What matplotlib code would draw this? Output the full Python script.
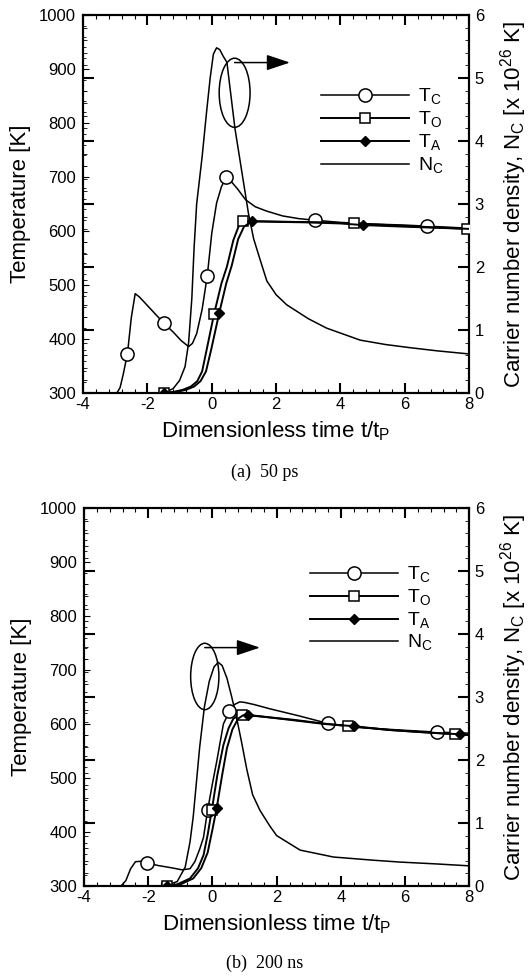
import matplotlib.pyplot as plt
from matplotlib.lines import Line2D
from matplotlib.patches import Ellipse
from matplotlib.ticker import MultipleLocator

plt.rcParams['font.family'] = ['Liberation Sans', 'DejaVu Sans']
plt.rcParams['mathtext.fontset'] = 'custom'
plt.rcParams['mathtext.rm'] = 'Liberation Sans'
plt.rcParams['axes.unicode_minus'] = False

# ---- (a) 50 ps ----
a_tc_t = [-2.95, -2.85, -2.75, -2.62, -2.5, -2.38, -2.25, -2.0, -1.75, -1.5, -1.2, -0.95, -0.72, -0.6,
          -0.47, -0.3, -0.14, 0.0, 0.15, 0.3, 0.45, 0.6, 0.8, 1.05, 1.35, 1.7, 2.2, 2.7, 3.2, 4.0,
          5.0, 6.0, 6.7, 7.4, 8.0]
a_tc = [300, 310, 335, 373, 440, 484, 478, 462, 446, 430, 413, 397, 386, 392, 410, 455, 517, 596,
        652, 682, 700, 692, 678, 658, 645, 637, 628, 623, 620, 616, 613, 611, 609, 607, 605]
a_tc_marks = [-2.62, -1.5, -0.14, 0.45, 3.2, 6.7]

a_to_t = [-1.5, -1.2, -0.9, -0.65, -0.45, -0.3, -0.16, 0.07, 0.3, 0.47, 0.67, 0.83, 0.96, 1.5, 2.5,
          3.5, 4.42, 5.5, 6.5, 7.93]
a_to = [300, 302, 306, 312, 322, 340, 380, 446, 503, 534, 583, 608, 618, 618, 617, 616, 614, 611,
        608, 604]
a_to_marks = [-1.5, 0.07, 0.96, 4.42, 7.93]

a_ta_t = [-1.5, -1.1, -0.8, -0.55, -0.35, -0.18, -0.02, 0.23, 0.45, 0.62, 0.82, 1.0, 1.24, 2.0, 3.0,
          4.0, 4.71, 6.0, 7.0, 8.0]
a_ta = [300, 302, 306, 312, 322, 340, 380, 448, 503, 536, 585, 608, 618, 617, 616, 614, 611, 608,
        606, 604]
a_ta_marks = [-1.5, 0.23, 1.24, 4.71]

a_nc_t = [-1.5, -1.2, -1.0, -0.83, -0.72, -0.62, -0.55, -0.47, -0.3, -0.16, -0.05, 0.05, 0.15, 0.25,
          0.35, 0.47, 0.72, 1.0, 1.14, 1.3, 1.5, 1.71, 2.0, 2.33, 3.0, 3.57, 4.61, 5.4, 6.16, 7.0, 8.0]
a_nc = [0, 0.07, 0.2, 0.42, 0.8, 1.5, 2.3, 3.0, 3.75, 4.47, 5.0, 5.38, 5.48, 5.45, 5.35, 5.25, 4.2,
        3.3, 2.85, 2.45, 2.12, 1.78, 1.56, 1.40, 1.18, 1.03, 0.84, 0.77, 0.72, 0.67, 0.62]

# ---- (b) 200 ns ----
b_tc_t = [-2.85, -2.7, -2.55, -2.4, -2.2, -2.03, -1.7, -1.3, -0.95, -0.7, -0.55, -0.4, -0.28, -0.15,
          0.0, 0.13, 0.25, 0.34, 0.53, 0.68, 0.85, 1.0, 1.3, 1.8, 2.7, 3.6, 4.5, 5.8, 7.0, 8.0]
b_tc = [300, 310, 332, 345, 346, 343, 338, 334, 330, 332, 345, 368, 390, 441, 490, 530, 570, 600,
        624, 636, 641, 640, 636, 628, 615, 601, 594, 589, 585, 583]
b_tc_marks = [-2.03, -0.15, 0.53, 3.6, 7.0]

b_to_t = [-1.42, -1.1, -0.7, -0.45, -0.28, -0.15, -0.02, 0.15, 0.34, 0.5, 0.65, 0.8, 0.91, 1.5, 2.5,
          3.3, 4.23, 5.5, 6.5, 7.56, 8.0]
b_to = [300, 303, 314, 333, 357, 395, 441, 505, 561, 592, 610, 615, 617, 614, 608, 602, 596, 589,
        585, 581, 580]
b_to_marks = [-1.42, -0.02, 0.91, 4.23, 7.56]

b_ta_t = [-1.42, -1.0, -0.6, -0.35, -0.15, 0.0, 0.13, 0.3, 0.45, 0.62, 0.8, 0.95, 1.1, 1.8, 2.8,
          3.5, 4.4, 5.5, 6.5, 7.7, 8.0]
b_ta = [300, 303, 314, 333, 362, 405, 444, 505, 555, 590, 610, 616, 617, 612, 605, 600, 596, 589,
        585, 581, 580]
b_ta_marks = [-1.42, 0.13, 1.1, 4.4, 7.7]

b_nc_t = [-1.5, -1.1, -0.85, -0.7, -0.6, -0.5, -0.4, -0.25, -0.1, 0.05, 0.18, 0.3, 0.45, 0.6, 0.76,
          0.9, 1.07, 1.25, 1.48, 1.79, 2.0, 2.73, 3.77, 5.0, 5.84, 7.0, 8.0]
b_nc = [0, 0.07, 0.3, 0.7, 1.1, 1.65, 2.2, 2.85, 3.25, 3.48, 3.55, 3.5, 3.3, 3.0, 2.65, 2.3, 1.85,
        1.45, 1.2, 0.95, 0.8, 0.57, 0.46, 0.41, 0.38, 0.35, 0.32]

labels = ['T$_\\mathregular{C}$', 'T$_\\mathregular{O}$', 'T$_\\mathregular{A}$', 'N$_\\mathregular{C}$']


def draw_panel(ax, tc, to, ta, nc, ell, arrow_end, leg_anchor):
    (tc_t, tc_y, tc_m), (to_t, to_y, to_m), (ta_t, ta_y, ta_m) = tc, to, ta
    ax2 = ax.twinx()
    ax2.plot(nc[0], nc[1], color='black', lw=1.1)
    ax.plot(tc_t, tc_y, color='black', lw=1.1, marker='o', ms=9.5, mfc='white', mew=1.1,
            markevery=[tc_t.index(v) for v in tc_m], zorder=3)
    ax.plot(to_t, to_y, color='black', lw=1.4, marker='s', ms=6.5, mfc='white', mew=1.1,
            markevery=[to_t.index(v) for v in to_m], zorder=3)
    ax.plot(ta_t, ta_y, color='black', lw=1.4, marker='D', ms=5.5, mfc='black',
            markevery=[ta_t.index(v) for v in ta_m], zorder=4)
    ax.set_zorder(ax2.get_zorder() + 1)
    ax.patch.set_visible(False)

    ax.set_xlim(-4, 8)
    ax.set_ylim(300, 1000)
    ax2.set_ylim(0, 6)
    ax.xaxis.set_major_locator(MultipleLocator(2))
    ax.xaxis.set_minor_locator(MultipleLocator(0.4))
    ax.yaxis.set_major_locator(MultipleLocator(100))
    ax.yaxis.set_minor_locator(MultipleLocator(20))
    ax2.yaxis.set_major_locator(MultipleLocator(1))
    ax2.yaxis.set_minor_locator(MultipleLocator(0.2))

    ax.tick_params(axis='x', which='both', direction='in', top=True, bottom=True)
    ax.tick_params(axis='x', which='major', length=7, width=1.5, labelsize=12, pad=3)
    ax.tick_params(axis='x', which='minor', length=3, width=0.8)
    ax.tick_params(axis='y', which='major', direction='in', length=4, width=0.8, labelsize=12, pad=5)
    ax.tick_params(axis='y', which='minor', direction='in', length=2, width=0.6)
    ax2.tick_params(axis='y', which='both', direction='in', left=True, right=True)
    ax2.tick_params(axis='y', which='major', length=8, width=1.5, labelsize=12, pad=4)
    ax2.tick_params(axis='y', which='minor', length=3, width=0.6)
    for a in (ax, ax2):
        for s in a.spines.values():
            s.set_linewidth(1.5)

    ax.set_xlabel('Dimensionless time t/t$_\\mathregular{P}$', fontsize=16)
    ax.set_ylabel('Temperature [K]', fontsize=16)
    ax2.set_ylabel('Carrier number density, N$_\\mathregular{C}$ [x 10$^\\mathregular{26}$ K]',
                   fontsize=16)
    ax.xaxis.set_label_coords(0.5, -0.07)
    ax.yaxis.set_label_coords(-0.135, 0.5)
    ax2.yaxis.set_label_coords(1.075, 0.5)

    # ellipse + arrow pointing to the right axis
    cx, cy, w, h = ell
    ax.add_patch(Ellipse((cx, cy), w, h, fill=False, color='black', lw=1.1, zorder=5))
    ax.annotate('', xy=(arrow_end, cy + h / 2 - 8), xytext=(cx, cy + h / 2 - 8),
                arrowprops=dict(arrowstyle='-|>,head_length=1.2,head_width=0.4', color='black',
                                lw=1.1, mutation_scale=12, shrinkA=0, shrinkB=0), zorder=5)

    handles = [
        Line2D([], [], color='black', lw=1.1, marker='o', ms=9.5, mfc='white', mew=1.1),
        Line2D([], [], color='black', lw=1.4, marker='s', ms=6.5, mfc='white', mew=1.1),
        Line2D([], [], color='black', lw=1.4, marker='D', ms=5.5, mfc='black'),
        Line2D([], [], color='black', lw=1.1),
    ]
    ax.legend(handles, labels, loc='upper left', bbox_to_anchor=leg_anchor, frameon=False,
              fontsize=14, handlelength=4.5, handletextpad=0.5, labelspacing=0.13,
              borderpad=0, borderaxespad=0, numpoints=1)


fig = plt.figure(figsize=(5.29, 9.76), dpi=100)
ax_a = fig.add_axes([0.157, 0.5973, 0.730, 0.3873])
ax_b = fig.add_axes([0.159, 0.0922, 0.728, 0.3873])

draw_panel(ax_a, (a_tc_t, a_tc, a_tc_marks), (a_to_t, a_to, a_to_marks),
           (a_ta_t, a_ta, a_ta_marks), (a_nc_t, a_nc),
           (0.71, 856, 0.96, 128), 2.43, (0.6166, 0.81))
draw_panel(ax_b, (b_tc_t, b_tc, b_tc_marks), (b_to_t, b_to, b_to_marks),
           (b_ta_t, b_ta, b_ta_marks), (b_nc_t, b_nc),
           (-0.24, 688, 0.88, 123), 1.48, (0.587, 0.85))

fig.text(0.5, 0.5164, '(a)  50 ps', ha='center', va='center', fontsize=13,
         family=['Liberation Serif', 'DejaVu Serif'])
fig.text(0.5, 0.0133, '(b)  200 ns', ha='center', va='center', fontsize=13,
         family=['Liberation Serif', 'DejaVu Serif'])

fig.savefig('out.png', dpi=100)
